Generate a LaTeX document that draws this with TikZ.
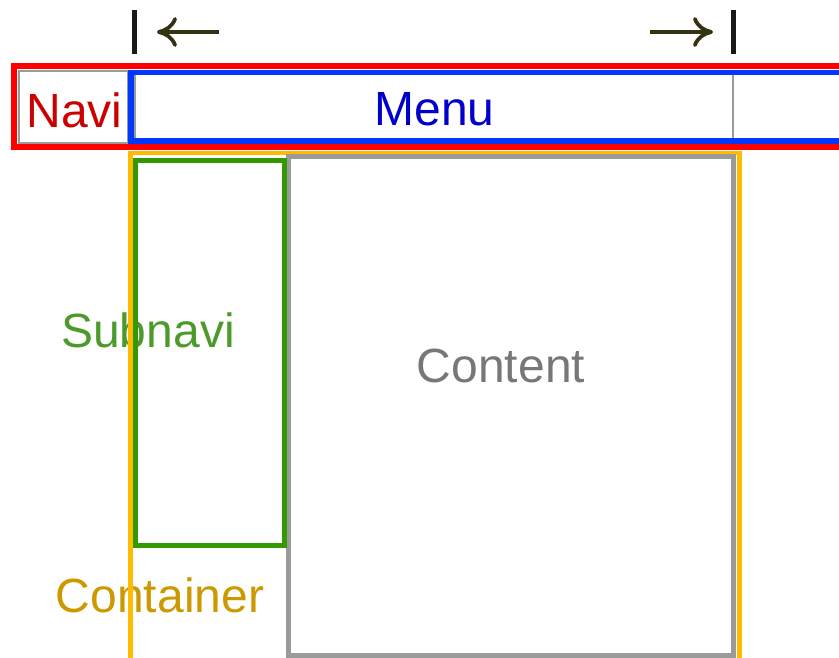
\documentclass[tikz,border=0pt]{standalone}
\usepackage{fontspec}
\setmainfont{Liberation Sans}
\usetikzlibrary{arrows.meta}
\definecolor{navired}{HTML}{FF0000}
\definecolor{navitext}{HTML}{CC0000}
\definecolor{menublue}{HTML}{0038FF}
\definecolor{menutext}{HTML}{0000CC}
\definecolor{subgreen}{HTML}{339900}
\definecolor{subtext}{HTML}{4C9A2A}
\definecolor{boxgray}{HTML}{9A9A9A}
\definecolor{contenttext}{HTML}{777777}
\definecolor{contorange}{HTML}{FFBB00}
\definecolor{conttext}{HTML}{CC9900}
\definecolor{arrowcol}{HTML}{333311}
\tikzset{
  lbl/.style={anchor=base, inner sep=0pt, font=\fontsize{48}{58}\selectfont},
  thinbox/.style={draw=boxgray, line width=2.5pt},
  frame/.style={line width=5.5pt},
  bar/.style={draw=black!90, line width=4.5pt},
  measure/.style={draw=arrowcol, line width=3.8pt,
    -{Computer Modern Rightarrow[length=20pt,width=30pt]}}
}
\begin{document}
\begin{tikzpicture}[x=1pt,y=-1pt]
\useasboundingbox (0,0) rectangle (839,657);
% texts (under the lines)
\node[lbl, text=navitext] (navi) at (74.5,127) {Navi};
\node[lbl, text=menutext] (menu) at (434.5,125) {Menu};
\node[lbl, text=subtext] (subnavi) at (148,347) {Subnavi};
\node[lbl, text=contenttext] (content) at (501,382) {Content};
\node[lbl, text=conttext] (container) at (160,612) {Container};
% inner gray boxes of navi and menu
\draw[thinbox] (19,71) rectangle (128,143);
\draw[thinbox] (135,71) rectangle (733,143);
% navi and menu frames
\draw[frame, draw=navired] (845,66) -- (14,66) -- (14,147) -- (845,147);
\draw[frame, draw=menublue] (845,72.5) -- (131,72.5) -- (131,141) -- (845,141);
% container
\draw[line width=4.5pt, draw=contorange] (130.5,660) -- (130.5,153) -- (739.5,153) -- (739.5,660);
% content
\draw[line width=5pt, draw=boxgray] (288.5,156) rectangle (733.5,655);
% subnavi
\draw[line width=5pt, draw=subgreen] (135.5,160.5) rectangle (284,545);
% measurement
\coordinate (barL1) at (134.5,10);
\coordinate (barL2) at (134.5,54);
\coordinate (barR1) at (733.5,10);
\coordinate (barR2) at (733.5,54);
\draw[bar] (barL1) -- (barL2);
\draw[bar] (barR1) -- (barR2);
\coordinate (arrL1) at (219,32);
\coordinate (arrL2) at (157,32);
\coordinate (arrR1) at (650,32);
\coordinate (arrR2) at (713,32);
\draw[measure] (arrL1) -- (arrL2);
\draw[measure] (arrR1) -- (arrR2);
\end{tikzpicture}
\end{document}
